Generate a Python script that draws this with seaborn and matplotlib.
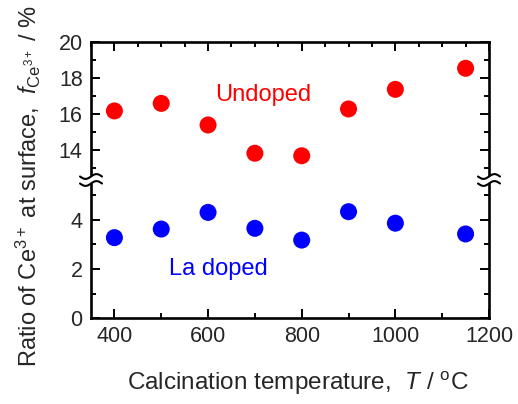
import numpy as np
import pandas as pd
import matplotlib
matplotlib.use("Agg")
import matplotlib.pyplot as plt
from matplotlib.ticker import MultipleLocator
import seaborn as sns

# Surface Ce3+ fraction vs calcination temperature
temperature = [400, 500, 600, 700, 800, 900, 1000, 1150]
undoped = [16.17, 16.59, 15.39, 13.82, 13.68, 16.28, 17.37, 18.54]
la_doped = [3.28, 3.63, 4.31, 3.66, 3.18, 4.34, 3.87, 3.43]
series_names = ["Undoped", "La doped"]
series_colors = ["#ff0000", "#0000ff"]

df = pd.DataFrame({
    "T": temperature * 2,
    "f": undoped + la_doped,
    "sample": [series_names[0]] * len(temperature) + [series_names[1]] * len(temperature),
})
palette = dict(zip(series_names, series_colors))

sns.set_theme(style="ticks")
plt.rcParams["font.family"] = ["Liberation Sans", "DejaVu Sans"]
plt.rcParams["mathtext.fontset"] = "custom"
plt.rcParams["mathtext.rm"] = "Liberation Sans"
plt.rcParams["mathtext.it"] = "Liberation Sans:italic"
plt.rcParams["mathtext.bf"] = "Liberation Sans:bold"

W, H = 518, 404
fig = plt.figure(figsize=(W / 100, H / 100), dpi=100)

x0, x1 = 91, 489          # frame, pixels
y_top, y_brk, y_bot = 42, 180, 318
left = x0 / W
width = (x1 - x0) / W
ax_hi = fig.add_axes([left, 1 - y_brk / H, width, (y_brk - y_top) / H])
ax_lo = fig.add_axes([left, 1 - y_bot / H, width, (y_bot - y_brk) / H])

for ax in (ax_hi, ax_lo):
    sns.scatterplot(data=df, x="T", y="f", hue="sample", palette=palette,
                    s=150, linewidth=0, legend=False, ax=ax, zorder=3)
    ax.set_xlim(350, 1200)
    ax.set_xlabel("")
    ax.set_ylabel("")
    for sp in ax.spines.values():
        sp.set_linewidth(1.9)
        sp.set_color("black")
    ax.tick_params(which="both", direction="in", width=1.4, color="black",
                   labelsize=15.5, pad=6, right=True)
    ax.tick_params(which="major", length=6.5)
    ax.tick_params(which="minor", length=3.3)
    ax.yaxis.set_minor_locator(MultipleLocator(1))

# upper panel (undoped)
ax_hi.set_ylim(20 - (y_brk - y_top) / 18.0, 20)
ax_hi.yaxis.set_major_locator(MultipleLocator(2))
ax_hi.xaxis.set_major_locator(MultipleLocator(200))
ax_hi.xaxis.set_minor_locator(MultipleLocator(50))
ax_hi.spines["bottom"].set_visible(False)
ax_hi.tick_params(which="both", top=True, bottom=False, labelbottom=False)

# lower panel (La doped)
ax_lo.set_ylim(0, (y_bot - y_brk) / 24.5)
ax_lo.yaxis.set_major_locator(MultipleLocator(2))
ax_lo.xaxis.set_major_locator(MultipleLocator(200))
ax_lo.xaxis.set_minor_locator(MultipleLocator(100))
ax_lo.spines["top"].set_visible(False)
ax_lo.tick_params(which="both", top=False, bottom=True)

ax_hi.text(718, 17.05, series_names[0], color=series_colors[0], fontsize=17,
           ha="center", va="center")
ax_lo.text(622, 2.0, series_names[1], color=series_colors[1], fontsize=17,
           ha="center", va="center")

# axis-break symbols on both vertical spines
xs = np.linspace(-11, 11, 60)
wave = 2.4 * np.sin(2 * np.pi * xs / 22)
for sx in (x0, x1):
    up = y_brk - 3.5 - wave
    dn = y_brk + 3.5 - wave
    fx = (sx + xs) / W
    fig.patches.append(plt.Polygon(
        np.column_stack([np.r_[fx, fx[::-1]],
                         np.r_[1 - up / H, (1 - dn / H)[::-1]]]),
        closed=True, facecolor="white", edgecolor="none",
        transform=fig.transFigure, zorder=5))
    for yy in (up, dn):
        fig.add_artist(plt.Line2D(fx, 1 - yy / H, color="black", lw=1.5,
                                  transform=fig.transFigure, zorder=6))

fig.text(298 / W, 1 - 383 / H,
         r"Calcination temperature,  $\mathit{T}$ / $^{\rm o}$C",
         ha="center", va="center", fontsize=17.5)
fig.text(28 / W, 1 - 186 / H,
         r"Ratio of Ce$^{3+}$ at surface,  $\mathit{f}_{\rm Ce^{3+}}$ / %",
         ha="center", va="center", rotation=90, fontsize=17)

fig.savefig("out.png", dpi=100, facecolor="white")
